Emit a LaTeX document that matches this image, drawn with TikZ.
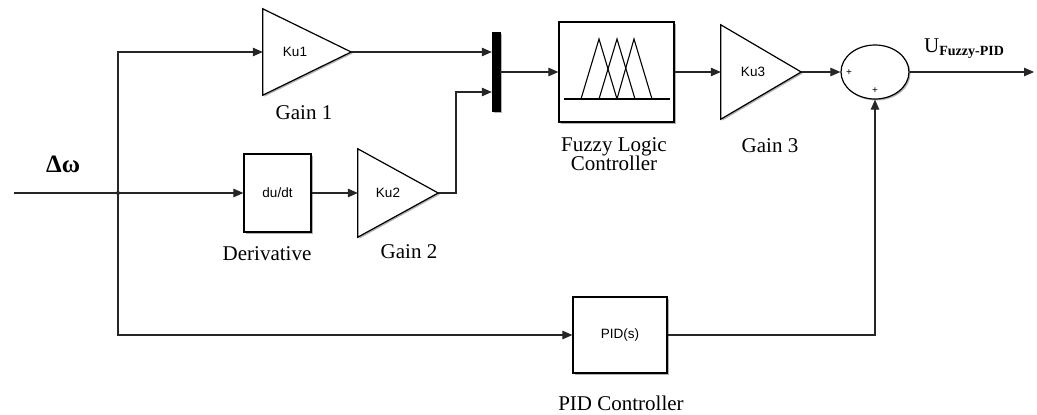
\documentclass[tikz,border=0pt]{standalone}
\usepackage{fontspec}
\setmainfont{Liberation Serif}
\setsansfont{Liberation Sans}
\usetikzlibrary{arrows.meta,shapes.geometric,shadows,calc}

\begin{document}
\begin{tikzpicture}[x=1pt,y=-1pt,
  wire/.style={line width=1.1pt, draw=black!85},
  sig/.style={wire,-{Triangle[length=10pt,width=8.5pt]}},
  bshadow/.style={drop shadow={shadow xshift=1.5pt,shadow yshift=-1.5pt,opacity=0.3,fill=black}},
  blk/.style={draw,line width=1.2pt,fill=white,inner sep=0pt,bshadow},
  gframe/.style={inner sep=0pt,draw=none},
  tri/.style={draw,line width=1.2pt,fill=white,line join=miter,bshadow},
  blocktext/.style={font=\sffamily\fontsize{13.5}{14}\selectfont},
  lbl/.style={inner sep=0pt,font=\rmfamily\mdseries\fontsize{21}{19}\selectfont},
  sign/.style={inner sep=0pt,font=\sffamily\fontsize{10}{10}\selectfont}]
\useasboundingbox (0,0) rectangle (1037,415);

% blocks
\node[blk, minimum width=67pt, minimum height=78pt, blocktext] (der) at (277.5,193) {du/dt};
\node[gframe, minimum width=88pt, minimum height=86pt] (g1) at (307,52) {};
\node[gframe, minimum width=80pt, minimum height=88pt] (g2) at (398,193) {};
\node[gframe, minimum width=80pt, minimum height=94pt] (g3) at (761,72) {};
\draw[tri] (g1.north west) -- (g1.east) -- (g1.south west) -- cycle;
\draw[tri] (g2.north west) -- (g2.east) -- (g2.south west) -- cycle;
\draw[tri] (g3.north west) -- (g3.east) -- (g3.south west) -- cycle;
\node[blocktext, inner sep=0pt] (k1) at (295,52) {Ku1};
\node[blocktext, inner sep=0pt] (k2) at (388,193) {Ku2};
\node[blocktext, inner sep=0pt] (k3) at (753,72) {Ku3};

\node[draw, fill=black, inner sep=0pt, minimum width=8pt, minimum height=79pt, bshadow] (mux) at (496,72) {};
\node[blk, minimum width=115pt, minimum height=100pt] (flc) at (616.5,72) {};
\draw[line width=1.1pt] (564,99) -- (670,99);
\draw[line width=1.1pt,line join=miter] (581,99) -- (599,39) -- (617,99);
\draw[line width=1.1pt,line join=miter] (599,99) -- (617,39) -- (635,99);
\draw[line width=1.1pt,line join=miter] (617,99) -- (634,39) -- (652,99);

\node[blk, minimum width=94pt, minimum height=76pt, blocktext] (pid) at (620,335) {PID(s)};
\node[blk, ellipse, minimum width=68pt, minimum height=54pt] (sum) at (875,72) {};
\node[sign] (p1) at (849,73) {+};
\node[sign] (p2) at (875,91) {+};

% coordinates
\coordinate (in) at (14,193);
\coordinate (j) at (118,193);
\coordinate (bend) at (456,193);
\coordinate (m2y) at (0,92);
\coordinate (out) at (1034,72);

% connectors
\draw[wire] (in) -- (j);
\draw[sig] (j) -- (der.west);
\draw[sig] (j) |- (g1.west);
\draw[sig] (j) |- (pid.west);
\fill[black!85] (j) circle (2pt);
\draw[sig] (der.east) -- (g2.west);
\draw[sig] (g1.east) -- (g1.east -| mux.west);
\draw[sig] (g2.east) -- (bend) |- (mux.west |- m2y);
\draw[sig] (mux.east) -- (flc.west);
\draw[sig] (flc.east) -- (g3.west);
\draw[sig] (g3.east) -- (sum.west);
\draw[sig] (sum.east) -- (out);
\draw[sig] (pid.east) -| (sum.south);

% labels
\node[lbl, anchor=base] (lg1) at (304,119) {Gain 1};
\node[lbl, anchor=base] (lder) at (267,260) {Derivative};
\node[lbl, anchor=base] (lg2) at (409,258) {Gain 2};
\node[lbl, anchor=base] (lflc1) at (614,151) {Fuzzy Logic};
\node[lbl, anchor=base] (lflc2) at (614,170) {Controller};
\node[lbl, anchor=base] (lg3) at (770,152) {Gain 3};
\node[lbl, anchor=base] (lpid) at (621,410) {PID Controller};
\node[anchor=base west, inner sep=0pt, font=\rmfamily\bfseries\fontsize{25}{25}\selectfont] (dw) at (46,172) {Δω};
\node[anchor=base west, inner sep=0pt] (u) at (924,52) {\fontsize{21}{21}\selectfont U\raisebox{-3pt}{\fontsize{14}{14}\selectfont\bfseries Fuzzy-PID}};
\end{tikzpicture}
\end{document}
